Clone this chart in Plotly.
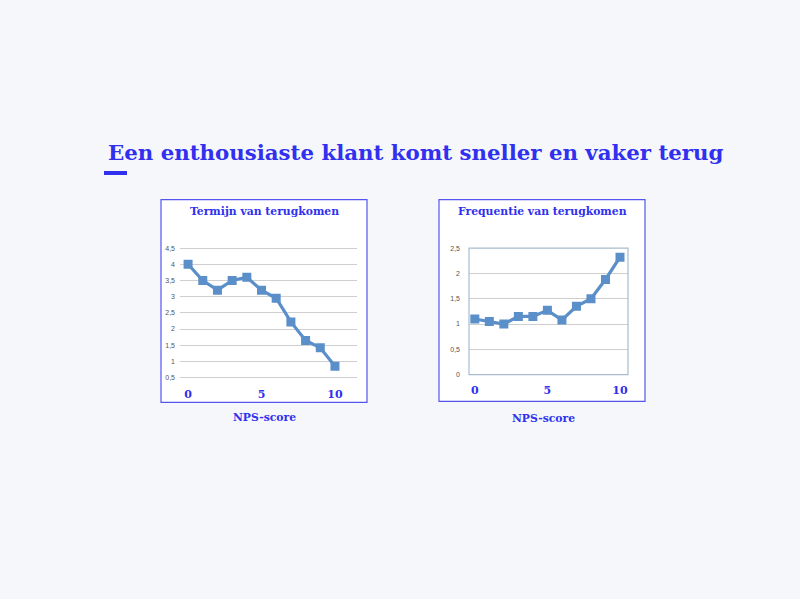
import plotly.graph_objects as go

# NPS-score 0..10
nps = [0, 1, 2, 3, 4, 5, 6, 7, 8, 9, 10]
termijn = [4.0, 3.5, 3.2, 3.5, 3.6, 3.2, 2.95, 2.22, 1.65, 1.42, 0.85]
frequentie = [1.1, 1.05, 1.0, 1.15, 1.15, 1.27, 1.08, 1.35, 1.5, 1.88, 2.32]

x_ticks = [0, 5, 10]
y_ticks_left = [0.5, 1, 1.5, 2, 2.5, 3, 3.5, 4, 4.5]
y_ticks_right = [0, 0.5, 1, 1.5, 2, 2.5]

W, H = 800, 599
blue = '#3030ee'
line_blue = '#5b8fc9'
serif = 'DejaVu Serif'


def px(x):
    return x / W


def py(y):
    return (H - y) / H


def nl(v):
    return str(v).replace('.', ',')


fig = go.Figure()

for i, vals in enumerate([termijn, frequentie]):
    fig.add_trace(go.Scatter(
        x=nps, y=vals,
        xaxis='x' if i == 0 else 'x2',
        yaxis='y' if i == 0 else 'y2',
        mode='lines+markers',
        line=dict(color=line_blue, width=3.2),
        marker=dict(symbol='square', size=9, color=line_blue),
        showlegend=False,
    ))

axis_common = dict(showline=False, zeroline=False, fixedrange=True)

fig.update_layout(
    width=W, height=H,
    margin=dict(l=0, r=0, t=0, b=0),
    paper_bgcolor='#f5f7fb',
    plot_bgcolor='white',
    xaxis=dict(domain=[px(180), px(357)], range=[-0.55, 11.5],
               tickvals=x_ticks, ticktext=[str(t) for t in x_ticks],
               showgrid=False, ticks='', ticklabelstandoff=6,
               tickfont=dict(family=serif, size=11, color=blue, weight='bold'),
               anchor='y', **axis_common),
    yaxis=dict(domain=[py(380), py(245)], range=[0.44, 4.56],
               tickvals=y_ticks_left, ticktext=[nl(t) for t in y_ticks_left],
               showgrid=True, gridcolor='#cfcfcf', gridwidth=1,
               tickfont=dict(family='Liberation Sans', size=7, color='#555'),
               ticks='', ticklabelstandoff=4,
               anchor='x', **axis_common),
    xaxis2=dict(domain=[px(469), px(628)], range=[-0.4, 10.55],
                tickvals=x_ticks, ticktext=[str(t) for t in x_ticks],
                showgrid=False, ticks='', ticklabelstandoff=7,
                tickfont=dict(family=serif, size=11, color=blue, weight='bold'),
                anchor='y2', **axis_common),
    yaxis2=dict(domain=[py(375), py(247)], range=[0, 2.5],
                tickvals=y_ticks_right, ticktext=[nl(t) for t in y_ticks_right],
                showgrid=True, gridcolor='#cfcfcf', gridwidth=1,
                tickfont=dict(family='Liberation Sans', size=7, color='#555'),
                ticks='', ticklabelstandoff=8,
                anchor='x2', **axis_common),
)

# white chart boxes with blue border, drawn below the plot areas
shapes = [
    dict(type='rect', xref='paper', yref='paper', layer='below',
         x0=px(161), x1=px(367), y0=py(403), y1=py(198),
         fillcolor='white', line=dict(color='#5555ee', width=1.2)),
    dict(type='rect', xref='paper', yref='paper', layer='below',
         x0=px(439), x1=px(645), y0=py(402), y1=py(198),
         fillcolor='white', line=dict(color='#5555ee', width=1.2)),
    # plot-area border of the right chart
    dict(type='rect', xref='paper', yref='paper', layer='above',
         x0=px(469), x1=px(628), y0=py(375), y1=py(247),
         line=dict(color='#a8bccd', width=1.2)),
    # accent bar under the heading
    dict(type='rect', xref='paper', yref='paper',
         x0=px(104), x1=px(127), y0=py(173), y1=py(169),
         fillcolor=blue, line=dict(width=0)),
]
fig.update_layout(shapes=shapes)

annotations = [
    dict(text='Een enthousiaste klant komt sneller en vaker terug',
         x=px(416), y=py(150), font=dict(family=serif, size=21.3, color=blue, weight='bold')),
    dict(text='Termijn van terugkomen', x=px(264), y=py(210),
         font=dict(family=serif, size=10.8, color=blue, weight='bold')),
    dict(text='Frequentie van terugkomen', x=px(542), y=py(210),
         font=dict(family=serif, size=10.8, color=blue, weight='bold')),
    dict(text='NPS-score', x=px(264), y=py(418),
         font=dict(family=serif, size=10.8, color=blue, weight='bold')),
    dict(text='NPS-score', x=px(543), y=py(419),
         font=dict(family=serif, size=10.8, color=blue, weight='bold')),
]
for a in annotations:
    a.update(xref='paper', yref='paper', showarrow=False, xanchor='center', yanchor='middle')
fig.update_layout(annotations=annotations)

fig.write_html('out.html', config={'displayModeBar': False},
               post_script="document.body.style.margin='0';")
